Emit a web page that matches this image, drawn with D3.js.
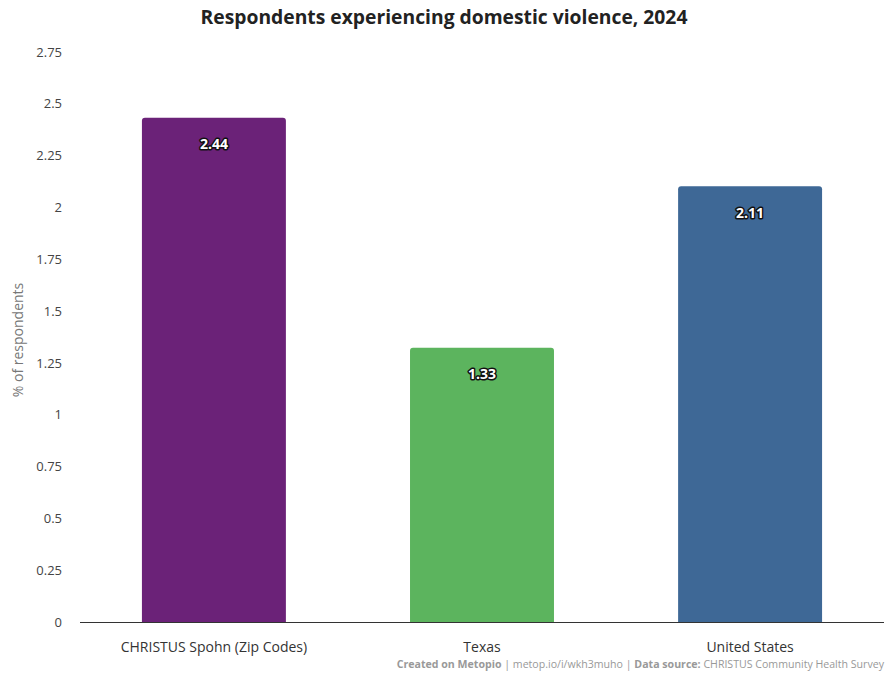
<!DOCTYPE html>
<html><head><meta charset="utf-8">
<script src="https://cdn.jsdelivr.net/npm/d3@7"></script>
<style>body{margin:0;background:#fff;} svg{display:block;font-family:"Open Sans",sans-serif;}</style>
</head><body><svg id="c" width="886" height="675"></svg>
<script>
const categories = ["CHRISTUS Spohn (Zip Codes)", "Texas", "United States"];
const values = [2.44, 1.33, 2.11];
const colors = ["#6B2278", "#5CB45E", "#3E6896"];
const yTicks = [0, 0.25, 0.5, 0.75, 1, 1.25, 1.5, 1.75, 2, 2.25, 2.5, 2.75];

const svg = d3.select("#c");
const m = {l: 80, r: 2, t: 52, b: 53};
const W = 886, H = 675;
const x = d3.scaleBand().domain(categories).range([m.l, W - m.r]).paddingInner(0.463).paddingOuter(0.231);
const y = d3.scaleLinear().domain([0, 2.75]).range([H - m.b, m.t]);

svg.append("text").attr("x", 444).attr("y", 24).attr("text-anchor", "middle")
  .attr("font-size", 19.3).attr("font-weight", 700).attr("fill", "#222")
  .text("Respondents experiencing domestic violence, 2024");

const yAx = svg.append("g").attr("transform", `translate(${m.l},0)`)
  .call(d3.axisLeft(y).tickValues(yTicks).tickSize(0).tickPadding(18).tickFormat(d3.format("~g")));
yAx.select(".domain").remove();
yAx.selectAll("text").attr("font-size", 13).attr("fill", "#444").attr("font-family", "Open Sans");

svg.append("text").attr("transform", `translate(23,${(m.t + H - m.b) / 2 + 3}) rotate(-90)`)
  .attr("text-anchor", "middle").attr("font-size", 14).attr("fill", "#777").text("% of respondents");

const r = 3;
svg.selectAll("path.bar").data(values).join("path").attr("class", "bar")
  .attr("fill", (d, i) => colors[i])
  .attr("d", (d, i) => {
    const x0 = x(categories[i]), w = x.bandwidth(), y0 = y(d) + 1.5, yb = y(0);
    return `M${x0},${yb}V${y0 + r}Q${x0},${y0} ${x0 + r},${y0}H${x0 + w - r}Q${x0 + w},${y0} ${x0 + w},${y0 + r}V${yb}Z`;
  });

svg.selectAll("text.lbl").data(values).join("text").attr("class", "lbl")
  .attr("x", (d, i) => x(categories[i]) + x.bandwidth() / 2)
  .attr("y", d => y(d) + 33).attr("text-anchor", "middle")
  .attr("font-size", 14).attr("font-weight", 700).attr("fill", "#fff")
  .attr("stroke", "#111").attr("stroke-width", 3).attr("paint-order", "stroke").attr("stroke-linejoin", "round")
  .text(d => d);

const xAx = svg.append("g").attr("transform", `translate(0,${y(0)})`)
  .call(d3.axisBottom(x).tickSize(0).tickPadding(20));
xAx.select(".domain").attr("stroke", "#333").attr("d", `M${m.l},0.5H${W - m.r}`);
xAx.selectAll("text").attr("font-size", 14).attr("fill", "#333").attr("font-family", "Open Sans");

const foot = svg.append("text").attr("x", 884).attr("y", 668).attr("text-anchor", "end")
  .attr("font-size", 10.6).attr("fill", "#999");
foot.append("tspan").attr("font-weight", 700).text("Created on Metopio");
foot.append("tspan").text(" | metop.io/i/wkh3muho | ");
foot.append("tspan").attr("font-weight", 700).text("Data source:");
foot.append("tspan").text(" CHRISTUS Community Health Survey");
</script></body></html>
